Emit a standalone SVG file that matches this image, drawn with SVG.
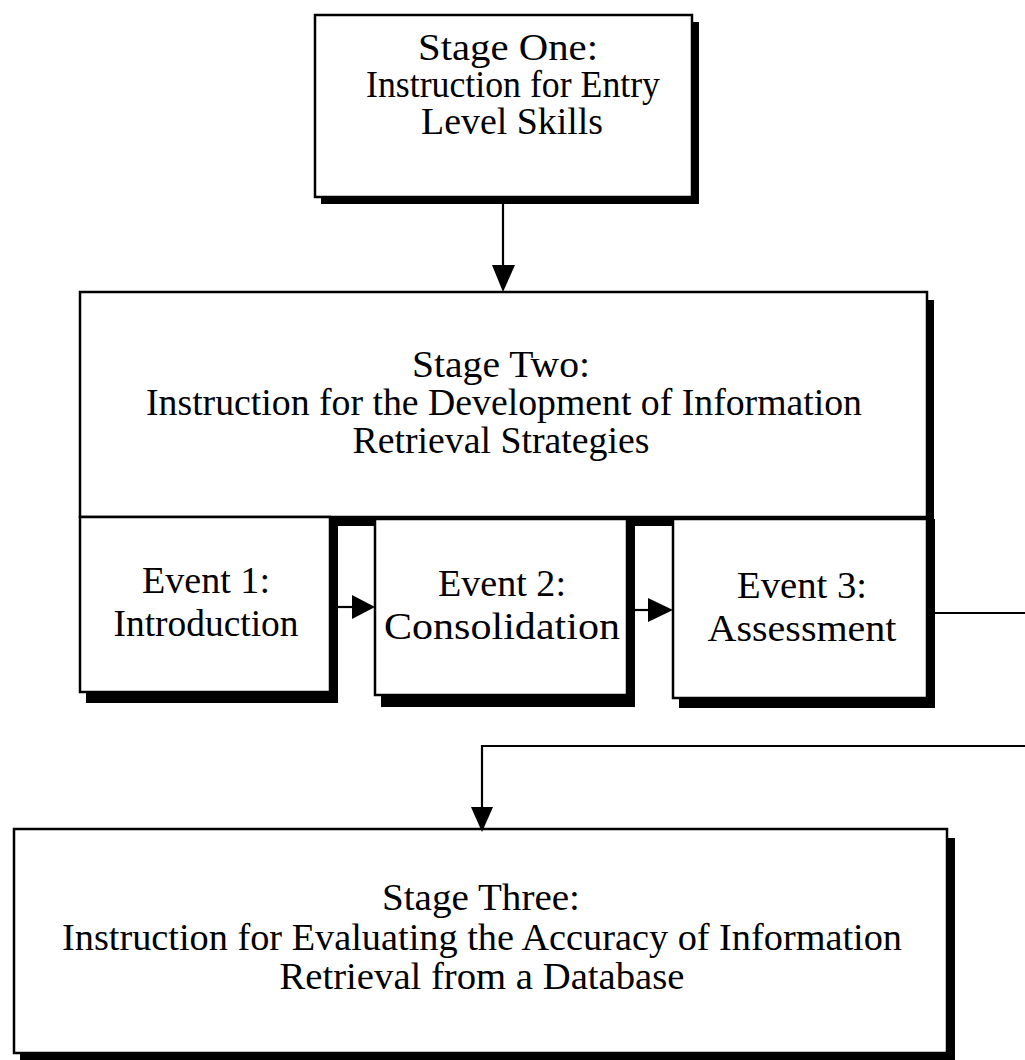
<svg xmlns="http://www.w3.org/2000/svg" width="1025" height="1060" viewBox="0 0 1025 1060">
<style>
.box{fill:#fff;stroke:#000;stroke-width:2.5}
.sh{fill:#000}
.t{font-family:"Liberation Serif","Times New Roman",serif;fill:#000;text-anchor:middle;font-size:37px}
.ln{stroke:#000;stroke-width:2.2;fill:none}
.ah{fill:#000}
</style>
<rect width="1025" height="1060" fill="#fff"/>
<g id="stage1">
<rect class="sh" x="321" y="22" width="378" height="182"/>
<rect class="box" x="315" y="15" width="377" height="182"/>
<text class="t" x="508" y="60" textLength="180" lengthAdjust="spacingAndGlyphs">Stage One:</text>
<text class="t" x="513" y="97" textLength="294" lengthAdjust="spacingAndGlyphs">Instruction for Entry</text>
<text class="t" x="512" y="134" textLength="182" lengthAdjust="spacingAndGlyphs">Level Skills</text>
</g>
<g id="stage2">
<rect class="sh" x="86" y="300" width="848" height="226"/>
<rect class="box" x="80" y="292" width="847" height="225"/>
<text class="t" x="501" y="377" textLength="178" lengthAdjust="spacingAndGlyphs">Stage Two:</text>
<text class="t" x="504" y="415" textLength="716" lengthAdjust="spacingAndGlyphs">Instruction for the Development of Information</text>
<text class="t" x="501" y="453" textLength="297" lengthAdjust="spacingAndGlyphs">Retrieval Strategies</text>
</g>
<g id="event1">
<rect class="sh" x="86" y="517" width="252" height="186"/>
<rect class="box" x="80" y="517" width="250" height="175"/>
<text class="t" x="206" y="593" textLength="128" lengthAdjust="spacingAndGlyphs">Event 1:</text>
<text class="t" x="206" y="636" textLength="185" lengthAdjust="spacingAndGlyphs">Introduction</text>
</g>
<g id="event2">
<rect class="sh" x="381" y="519" width="254" height="188"/>
<rect class="box" x="375" y="519" width="252" height="176"/>
<text class="t" x="502" y="596" textLength="128" lengthAdjust="spacingAndGlyphs">Event 2:</text>
<text class="t" x="502" y="639" textLength="236" lengthAdjust="spacingAndGlyphs">Consolidation</text>
</g>
<g id="event3">
<rect class="sh" x="679" y="519" width="256" height="189"/>
<rect class="box" x="673" y="519" width="254" height="179"/>
<text class="t" x="802" y="598" textLength="130" lengthAdjust="spacingAndGlyphs">Event 3:</text>
<text class="t" x="802" y="641" textLength="189" lengthAdjust="spacingAndGlyphs">Assessment</text>
</g>
<g id="stage3">
<rect class="sh" x="20" y="838" width="935" height="222"/>
<rect class="box" x="14" y="829" width="933" height="224"/>
<text class="t" x="481" y="910" textLength="198" lengthAdjust="spacingAndGlyphs">Stage Three:</text>
<text class="t" x="482" y="950" textLength="840" lengthAdjust="spacingAndGlyphs">Instruction for Evaluating the Accuracy of Information</text>
<text class="t" x="482" y="989" textLength="405" lengthAdjust="spacingAndGlyphs">Retrieval from a Database</text>
</g>
<g id="connectors">
<line class="ln" x1="503" y1="204" x2="503" y2="268"/>
<polygon class="ah" points="492,265 515,265 503,292"/>
<line class="ln" x1="338" y1="607" x2="354" y2="607"/>
<polygon class="ah" points="352,595 375,607 352,619"/>
<line class="ln" x1="635" y1="610" x2="650" y2="610"/>
<polygon class="ah" points="648,598 673,610 648,622"/>
<line class="ln" x1="935" y1="613" x2="1025" y2="613"/>
<polyline class="ln" points="1025,746 482,746 482,810"/>
<polygon class="ah" points="471,807 493,807 482,832"/>
</g>
</svg>
